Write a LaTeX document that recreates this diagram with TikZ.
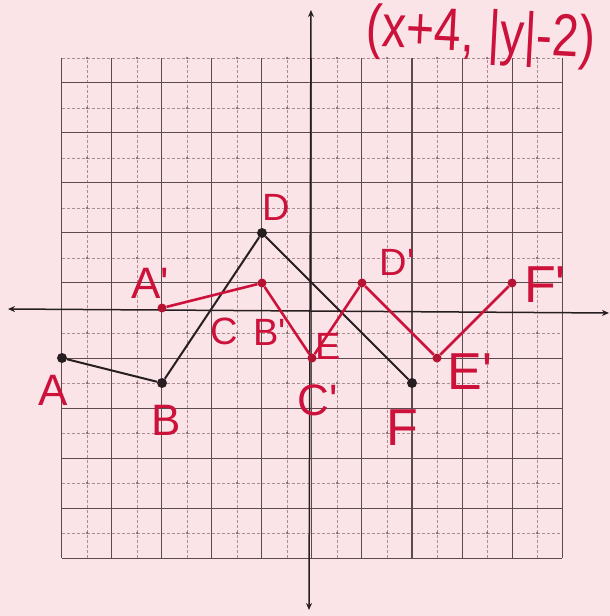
\documentclass[tikz,border=0pt]{standalone}
\usepackage{fontspec}
\newfontfamily\hand{Liberation Sans}
\usetikzlibrary{arrows.meta}
\definecolor{paper}{RGB}{251,228,232}
\definecolor{ink}{RGB}{204,18,58}
\definecolor{darkink}{RGB}{180,20,50}
\definecolor{pencil}{RGB}{38,30,32}
\definecolor{gridsolid}{RGB}{92,75,78}
\definecolor{griddash}{RGB}{170,140,145}
\begin{document}
\begin{tikzpicture}[x=25pt,y=25pt,
  solidgrid/.style={gridsolid, line width=1pt},
  dashgrid/.style={griddash, line width=0.7pt, dash pattern=on 3pt off 2pt},
  axisline/.style={pencil, line width=1.5pt, {Stealth[length=7pt,width=6pt]}-{Stealth[length=7pt,width=6pt]}},
  origline/.style={pencil, line width=2pt},
  imageline/.style={ink, line width=2.6pt},
  bdot/.style={circle, fill=pencil, inner sep=0pt, minimum size=10pt},
  rdot/.style={circle, fill=darkink, inner sep=0pt, minimum size=9pt},
  lab/.style={ink, inner sep=0pt, font=\hand\fontsize{44}{44}\selectfont},
  biglab/.style={ink, inner sep=0pt, font=\hand\fontsize{52}{52}\selectfont},
  smalllab/.style={ink, inner sep=0pt, font=\hand\fontsize{38}{38}\selectfont}]
\fill[paper] (-12.48,-12.32) rectangle (11.92,12.32);
\useasboundingbox (-12.48,-12.32) rectangle (11.92,12.32);
\clip (-12.48,-12.32) rectangle (11.92,12.32);
% grid: dashed lines
\foreach \x in {-9,-7,...,9} \draw[dashgrid] (\x,-10) -- (\x,10);
\foreach \y in {-9,-7,-5,-3,-1,2,4,6,8,10} \draw[dashgrid] (-10,\y) -- (10,\y);
\foreach \x in {-9,-7,...,9} \foreach \y in {-9,-7,-5,-3,-1,2,4,6,8,10}
  \fill[gridsolid!70!griddash] (\x,\y) circle (1.2pt);
% grid: solid lines
\foreach \x in {-10,-8,...,10} \draw[solidgrid] (\x,-10) -- (\x,10);
\foreach \y in {-10,-8,-6,-4,-2,1,3,5,7,9} \draw[solidgrid] (-10,\y) -- (10,\y);
% axes
\coordinate (xl) at (-12.16,-0.04);
\coordinate (xr) at (11.88,-0.2);
\coordinate (yt) at (-0.04,11.92);
\coordinate (yb) at (-0.12,-12.08);
\draw[axisline] (xl) -- (xr);
\draw[axisline] (yt) -- (yb);
% original figure
\node[bdot] (A) at (-10,-2) {};
\node[bdot] (B) at (-6,-3) {};
\coordinate (C) at (-4,0);
\node[bdot] (D) at (-2,3) {};
\coordinate (E) at (1,0);
\node[bdot] (F) at (4,-3) {};
\draw[origline] (A) -- (B) -- (C) -- (D) -- (E) -- (F);
% image figure
\node[rdot] (Ap) at (-6,0) {};
\node[rdot] (Bp) at (-2,1) {};
\node[rdot] (Cp) at (0,-2) {};
\node[rdot] (Dp) at (2,1) {};
\node[rdot] (Ep) at (5,-2) {};
\node[rdot] (Fp) at (8,1) {};
\draw[imageline] (Ap) -- (Bp) -- (Cp) -- (Dp) -- (Ep) -- (Fp);
% labels
\node[lab] (lA) at (-10.36,-3.28) {A};
\node[lab] (lB) at (-5.84,-4.48) {B};
\node[smalllab] (lC) at (-3.52,-0.92) {C};
\node[smalllab] (lD) at (-1.44,4.04) {D};
\node[smalllab] (lE) at (0.64,-1.52) {E};
\node[biglab] (lF) at (3.6,-4.8) {F};
\node[lab] (lAp) at (-6.48,1.0) {A'};
\node[smalllab] (lBp) at (-1.7,-0.96) {B'};
\node[lab] (lCp) at (0.24,-3.68) {C'};
\node[smalllab] (lDp) at (3.4,1.84) {D'};
\node[biglab] (lEp) at (6.32,-2.56) {E'};
\node[biglab] (lFp) at (9.32,0.92) {F'};
% rule
\node[ink, inner sep=0pt, anchor=north west, rotate=-3, font=\hand\fontsize{60}{60}\selectfont]
  (rule) at (2.24,12.22) {\scalebox{0.8}[1]{(x+4, |y|-2)}};
\end{tikzpicture}
\end{document}
